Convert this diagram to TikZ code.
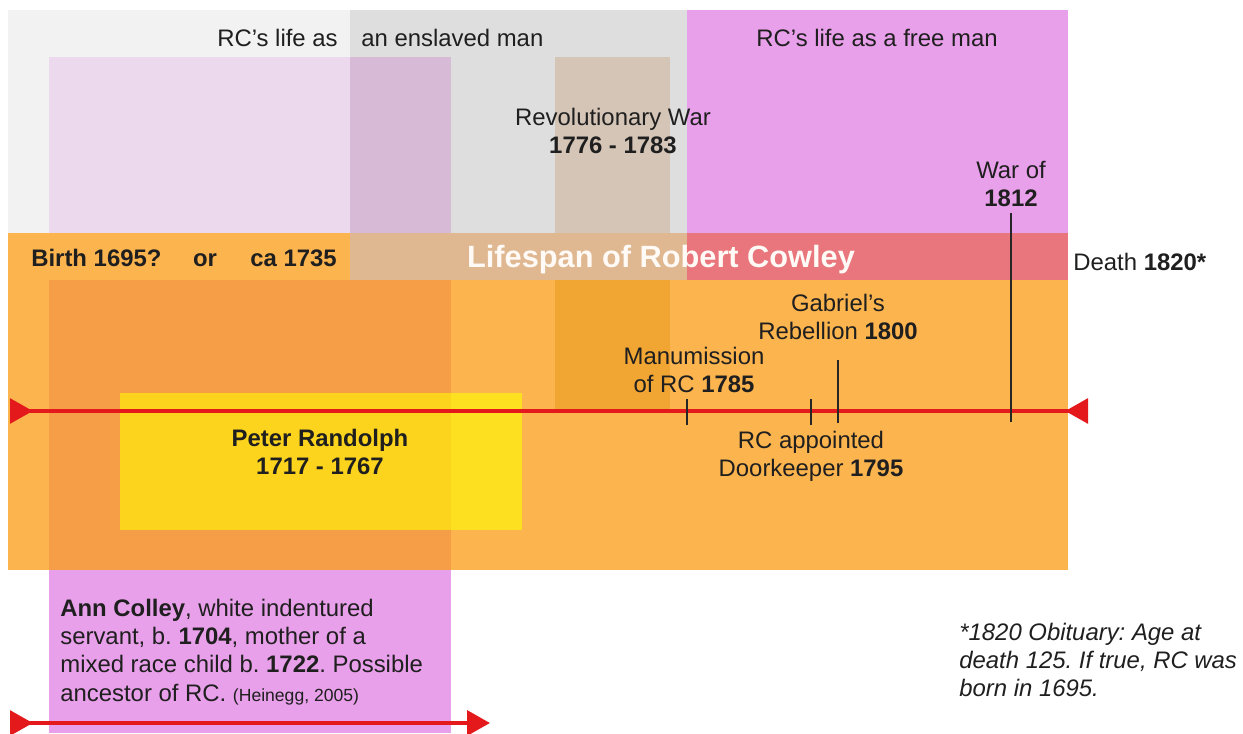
\documentclass[tikz,border=0pt]{standalone}
\usepackage{fontspec}
\setmainfont{Liberation Sans}
\usetikzlibrary{arrows.meta}
\frenchspacing

\definecolor{bglight}{HTML}{F2F2F2}
\definecolor{bgmid}{HTML}{DEDEDE}
\definecolor{freepink}{HTML}{E9A0EA}
\definecolor{lilac}{HTML}{EDD9EE}
\definecolor{lilacgray}{HTML}{D6BAD6}
\definecolor{wartan}{HTML}{D4C5B7}
\definecolor{orangebg}{HTML}{FBB44E}
\definecolor{orangedeep}{HTML}{F69D48}
\definecolor{orangewar}{HTML}{F1A533}
\definecolor{bandbeige}{HTML}{DFB892}
\definecolor{bandrose}{HTML}{E8767C}
\definecolor{pryellow}{HTML}{FCD41D}
\definecolor{pryellowlt}{HTML}{FDE020}
\definecolor{tlred}{HTML}{E3191B}

\tikzset{
  lbl/.style={font=\fontsize{13.6}{16}\selectfont, text=black!88, align=center},
  tick/.style={draw=black!85, line width=0.6pt},
  timeline/.style={draw=tlred, line width=2.3pt},
}

\begin{document}
\begin{tikzpicture}[x=0.02cm,y=-0.02cm]
\useasboundingbox (0,0) rectangle (1243,733);

% life periods
\fill[bglight] (8,10) rectangle (350,233);
\fill[bgmid] (350,10) rectangle (687,233);
\fill[freepink] (687,10) rectangle (1068,233);
\fill[orangebg] (8,233) rectangle (1068,570);

% Ann Colley column
\fill[lilac] (49,57) rectangle (350,233);
\fill[lilacgray] (350,57) rectangle (451,233);
\fill[orangedeep] (49,280) rectangle (451,570);
\fill[freepink] (49,570) rectangle (451,733);

% revolutionary war
\fill[wartan] (555,57) rectangle (670,233);
\fill[orangewar] (555,280) rectangle (670,411);

% lifespan band
\fill[bandbeige] (350,233) rectangle (687,280);
\fill[bandrose] (687,233) rectangle (1068,280);

% Peter Randolph
\fill[pryellow] (120,393) rectangle (451,530);
\fill[pryellowlt] (451,393) rectangle (522,530);

\node[lbl, anchor=east, inner sep=0] (slaveA) at (338,38) {RC’s life as};
\node[lbl, anchor=west, inner sep=0] (slaveB) at (361,38) {an enslaved man};
\node[lbl] (free) at (877,38) {RC’s life as a free man};
\node[lbl] (revwar) at (613,131) {Revolutionary War\\\textbf{1776 - 1783}};
\node[lbl] (war) at (1011,184) {War of\\\textbf{1812}};

\node[lbl, font=\bfseries\fontsize{13.6}{16}\selectfont, anchor=west, inner sep=0] (birth) at (31,258)
  {Birth 1695?\hspace{18pt}or\hspace{19pt}ca 1735};
\node[font=\bfseries\fontsize{17.5}{20}\selectfont, text=white!96!orange] (life) at (661,260) {Lifespan of Robert Cowley};
\node[lbl, anchor=west, inner sep=0] (death) at (1073,262) {Death \textbf{1820*}};

\node[lbl] (gab) at (838,317) {Gabriel’s\\Rebellion \textbf{1800}};
\node[lbl] (manu) at (694,370) {Manumission\\of RC \textbf{1785}};
\node[lbl] (door) at (811,456) {RC appointed\\Doorkeeper \textbf{1795}};
\node[lbl, font=\bfseries\fontsize{13.6}{16}\selectfont] (peter) at (320,452) {Peter Randolph\\1717 - 1767};

\node[lbl, align=left, anchor=west, inner sep=0] (ann) at (60,652)
  {\textbf{Ann Colley}, white indentured\\servant, b. \textbf{1704}, mother of a\\mixed race child b. \textbf{1722}. Possible\\ancestor of RC. {\fontsize{10}{16}\selectfont(Heinegg, 2005)}};
\node[lbl, align=left, anchor=west, inner sep=0, font=\itshape\fontsize{13.6}{16}\selectfont] (obit) at (959,660)
  {*1820 Obituary: Age at\\death 125. If true, RC was\\born in 1695.};

% timelines
\coordinate (tlL) at (10,411);
\coordinate (tlR) at (1088,411);
\coordinate (acL) at (10,723);
\coordinate (acR) at (490,723);
\draw[timeline, {Triangle[reversed, length=13pt, width=14pt]}-{Triangle[reversed, length=13pt, width=14pt]}] (tlL) -- (tlR);
\draw[timeline, {Triangle[reversed, length=13pt, width=14pt]}-{Triangle[length=13pt, width=14pt]}] (acL) -- (acR);

% ticks
\coordinate (t1785) at (687,425);
\coordinate (t1795) at (811,399);
\coordinate (t1800) at (838,423);
\coordinate (t1812) at (1011,422);
\draw[tick] (manu.south -| t1785) -- (t1785);
\draw[tick] (door.north) -- (t1795);
\draw[tick, shorten <=8pt] (gab.south) -- (t1800);
\draw[tick] (war.south) -- (t1812);
\end{tikzpicture}
\end{document}
